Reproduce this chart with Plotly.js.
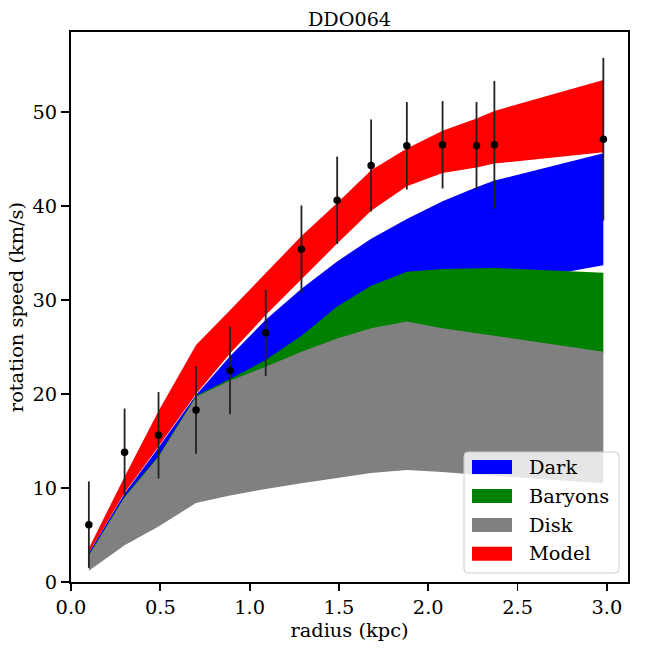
<!DOCTYPE html>
<html>
<head>
<meta charset="utf-8">
<script src="https://cdn.plot.ly/plotly-3.0.1.min.js"></script>
<style>html,body{margin:0;padding:0;background:#fff;}#plot{width:648px;height:648px;}</style>
</head>
<body>
<div id="plot"></div>
<script>
// ---- data ----
const radius = [0.10, 0.30, 0.49, 0.70, 0.89, 1.09, 1.29, 1.49, 1.68, 1.88, 2.08, 2.27, 2.37, 2.98];
const vObs   = [6.1, 13.8, 15.6, 18.3, 22.5, 26.5, 35.4, 40.6, 44.3, 46.4, 46.5, 46.4, 46.5, 47.1];
const vErr   = [4.6, 4.65, 4.6, 4.65, 4.65, 4.6, 4.65, 4.65, 4.9, 4.65, 4.65, 4.65, 6.8, 8.65];

const modelUpper   = [3.6, 11.2, 18.2, 25.2, 28.9, 32.9, 36.8, 40.3, 43.8, 46.1, 48.0, 49.3, 50.1, 53.4];
const modelLower   = [3.1, 9.5, 14.4, 20.0, 24.3, 28.4, 32.2, 36.0, 39.5, 42.1, 43.5, 44.1, 44.5, 45.7];
const darkUpper    = [3.1, 9.4, 14.3, 19.9, 24.0, 27.9, 31.2, 34.1, 36.5, 38.6, 40.5, 42.0, 42.7, 45.6];
const darkLower    = [2.0, 5.5, 8.5, 11.5, 14.5, 17.5, 20.5, 23.5, 26.2, 28.4, 29.9, 31.1, 31.6, 33.7];
const baryonsUpper = [2.9, 9.1, 13.4, 19.8, 21.6, 23.6, 26.2, 29.3, 31.5, 33.0, 33.3, 33.4, 33.4, 32.9];
const baryonsLower = [1.8, 5.0, 7.5, 9.5, 10.0, 10.5, 12.5, 16.0, 19.5, 21.8, 22.6, 23.0, 23.2, 24.3];
const diskUpper    = [2.8, 9.0, 13.3, 19.7, 21.4, 22.9, 24.5, 25.9, 27.0, 27.7, 27.0, 26.5, 26.2, 24.5];
const diskLower    = [1.2, 3.9, 5.9, 8.4, 9.2, 9.9, 10.5, 11.1, 11.6, 11.9, 11.7, 11.4, 11.3, 10.5];

const xTicks = [0, 0.5, 1.0, 1.5, 2.0, 2.5, 3.0];
const xTickText = ['0.0', '0.5', '1.0', '1.5', '2.0', '2.5', '3.0'];
const yTicks = [0, 10, 20, 30, 40, 50];
const yTickText = ['0', '10', '20', '30', '40', '50'];

const legendNames = ['Dark', 'Baryons', 'Disk', 'Model'];
const legendColors = ['#0000ff', '#008000', '#808080', '#ff0000'];

const FONT = 'DejaVu Serif, serif';
const FS = 19.4;

function band(upper, lower, color, name) {
  return {
    x: radius.concat(radius.slice().reverse()),
    y: upper.concat(lower.slice().reverse()),
    type: 'scatter', mode: 'lines', fill: 'toself',
    fillcolor: color, line: {width: 0, color: color},
    name: name, showlegend: false, hoverinfo: 'skip'
  };
}

const traces = [
  band(darkUpper, darkLower, '#0000ff', 'Dark'),
  band(baryonsUpper, baryonsLower, '#008000', 'Baryons'),
  band(diskUpper, diskLower, '#808080', 'Disk'),
  band(modelUpper, modelLower, '#ff0000', 'Model'),
  {
    x: radius, y: vObs, type: 'scatter', mode: 'markers',
    marker: {color: '#000', size: 7.5},
    error_y: {type: 'data', array: vErr, visible: true, color: '#222', thickness: 1.8, width: 0},
    showlegend: false
  }
];

// plot-area geometry in pixels (for legend placement)
const L = 71, R = 628, T = 32, B = 582;
const W = 648, H = 648;
function px(x) { return (x - L) / (R - L); }
function py(y) { return (B - y) / (B - T); }

const shapes = [];
const annotations = [];
// legend frame
(function () {
  const x0 = 464, x1 = 619, y0 = 452, y1 = 573, r = 4;
  const p = 'M ' + px(x0 + r) + ',' + py(y0) +
    ' L ' + px(x1 - r) + ',' + py(y0) +
    ' Q ' + px(x1) + ',' + py(y0) + ' ' + px(x1) + ',' + py(y0 + r) +
    ' L ' + px(x1) + ',' + py(y1 - r) +
    ' Q ' + px(x1) + ',' + py(y1) + ' ' + px(x1 - r) + ',' + py(y1) +
    ' L ' + px(x0 + r) + ',' + py(y1) +
    ' Q ' + px(x0) + ',' + py(y1) + ' ' + px(x0) + ',' + py(y1 - r) +
    ' L ' + px(x0) + ',' + py(y0 + r) +
    ' Q ' + px(x0) + ',' + py(y0) + ' ' + px(x0 + r) + ',' + py(y0) + ' Z';
  shapes.push({type: 'path', xref: 'paper', yref: 'paper', path: p,
    fillcolor: 'rgba(255,255,255,0.8)', line: {color: '#cccccc', width: 1}, layer: 'above'});
  const rows = [467, 496, 525, 553.7];
  legendNames.forEach(function (nm, i) {
    shapes.push({type: 'rect', xref: 'paper', yref: 'paper',
      x0: px(472), x1: px(512), y0: py(rows[i] - 7), y1: py(rows[i] + 7),
      fillcolor: legendColors[i], line: {width: 0}, layer: 'above'});
    annotations.push({xref: 'paper', yref: 'paper', x: px(527), y: py(rows[i]),
      xanchor: 'left', yanchor: 'middle', text: nm, showarrow: false,
      font: {family: FONT, size: FS, color: '#000'}});
  });
})();

const layout = {
  width: W, height: H,
  margin: {l: L, r: W - R, t: T, b: H - B, pad: 0},
  paper_bgcolor: '#fff', plot_bgcolor: '#fff',
  showlegend: false,
  font: {family: FONT, size: FS, color: '#000'},
  title: {text: 'DDO064', font: {family: FONT, size: 19.2, color: '#000'},
    x: 0.5, xref: 'paper', xanchor: 'center', y: 1 - 19 / H, yref: 'container', yanchor: 'middle'},
  xaxis: {
    range: [0, 3.118], tickvals: xTicks, ticktext: xTickText,
    ticks: 'outside', ticklen: 7, tickwidth: 1.8, tickcolor: '#000',
    showline: true, linecolor: '#000', linewidth: 2, mirror: true,
    showgrid: false, zeroline: false, automargin: false,
    tickfont: {family: FONT, size: FS, color: '#000'},
    title: {text: 'radius (kpc)', font: {family: FONT, size: FS, color: '#000'}, standoff: 1}
  },
  yaxis: {
    range: [0, 58.5], tickvals: yTicks, ticktext: yTickText,
    ticks: 'outside', ticklen: 8, tickwidth: 1.8, tickcolor: '#000',
    showline: true, linecolor: '#000', linewidth: 2, mirror: true,
    showgrid: false, zeroline: false, automargin: false,
    tickfont: {family: FONT, size: FS, color: '#000'},
    title: {text: 'rotation speed (km/s)', font: {family: FONT, size: FS, color: '#000'}, standoff: 4}
  },
  shapes: shapes,
  annotations: annotations
};

Plotly.newPlot('plot', traces, layout, {staticPlot: true, displayModeBar: false});
</script>
</body>
</html>
